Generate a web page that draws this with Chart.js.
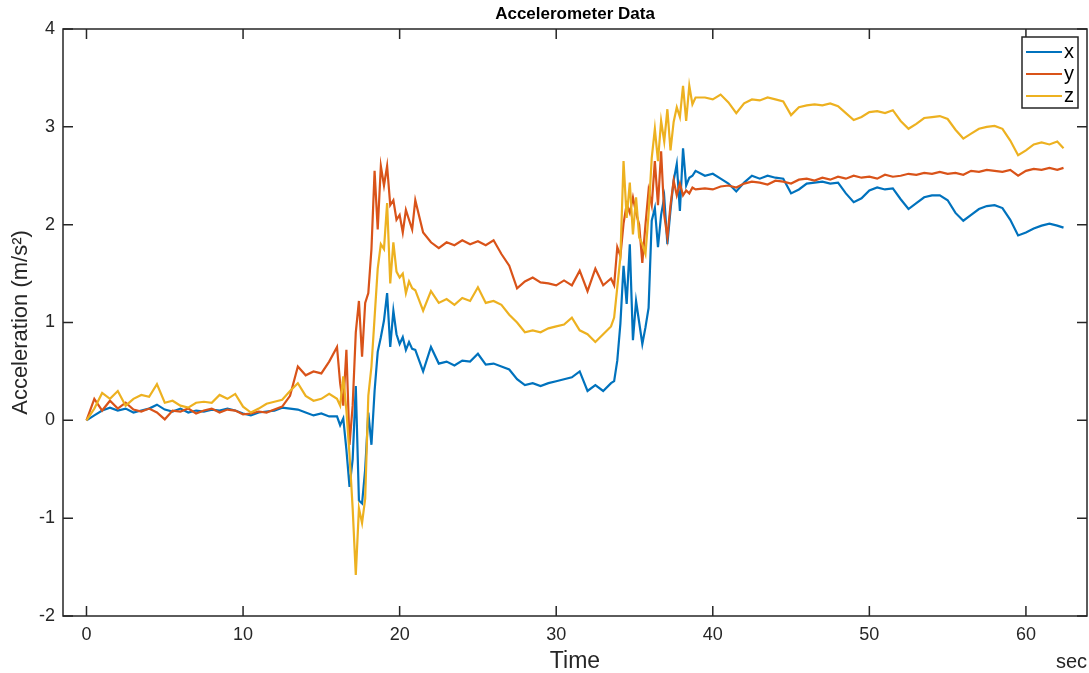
<!DOCTYPE html>
<html><head><meta charset="utf-8">
<script src="https://cdn.jsdelivr.net/npm/chart.js@4.4.1/dist/chart.umd.min.js"></script>
<style>html,body{margin:0;padding:0;background:#fff;overflow:hidden}canvas{display:block}</style>
</head><body>
<canvas id="c" width="1089" height="673"></canvas>
<script>
// ---- data (seconds, m/s^2) ----
const time = [
 0,0.5,1,1.5,2,2.5,3,3.5,4,4.5,5,5.5,6,6.5,7,7.5,8,8.5,9,9.5,10,10.5,11,11.5,12,12.5,13,13.5,14,14.5,15,15.5,
 16,16.2,16.4,16.6,16.8,17,17.2,17.4,17.6,17.8,18,18.2,18.4,18.6,18.8,19,19.2,19.4,19.6,19.8,20,20.2,20.4,20.6,20.8,
 21,21.5,22,22.5,23,23.5,24,24.5,25,25.5,26,26.5,27,27.5,28,28.5,29,29.5,30,30.5,31,31.5,32,32.5,33,33.5,
 33.7,33.9,34.1,34.3,34.5,34.7,34.9,35.1,35.3,35.5,35.7,35.9,36.1,36.3,36.5,36.7,36.9,37.1,37.3,37.5,37.7,37.9,38.1,38.3,38.5,38.7,38.9,
 39.5,40,40.5,41,41.5,42,42.5,43,43.5,44,44.5,45,45.5,46,46.5,47,47.5,48,48.5,49,49.5,50,50.5,51,51.5,52,52.5,53,53.5,54,54.5,55,55.5,56,56.5,57,57.5,58,58.5,59,59.5,60,60.5,61,61.5,62,62.4
];
const accX = [
 0.00,0.05,0.10,0.13,0.10,0.12,0.08,0.10,0.12,0.16,0.11,0.09,0.12,0.08,0.10,0.09,0.11,0.10,0.12,0.10,0.07,0.05,0.08,0.09,0.10,0.13,0.12,0.11,0.08,0.05,0.07,0.04,
 0.04,-0.05,0.02,-0.30,-0.68,-0.40,0.35,-0.82,-0.85,-0.50,0.08,-0.25,0.30,0.70,0.85,1.02,1.30,0.75,1.12,0.88,0.78,0.85,0.72,0.80,0.73,
 0.72,0.50,0.75,0.58,0.60,0.56,0.61,0.60,0.68,0.57,0.58,0.55,0.52,0.42,0.36,0.38,0.35,0.38,0.40,0.42,0.44,0.50,0.30,0.36,0.30,0.38,
 0.40,0.61,0.99,1.58,1.19,1.80,0.82,1.22,1.00,0.78,0.95,1.15,2.04,2.17,1.77,2.10,2.28,1.80,2.15,2.45,2.62,2.14,2.78,2.40,2.48,2.50,2.55,
 2.50,2.52,2.47,2.42,2.34,2.43,2.50,2.47,2.50,2.48,2.47,2.32,2.36,2.42,2.43,2.44,2.42,2.43,2.32,2.23,2.27,2.35,2.38,2.36,2.37,2.26,2.16,2.22,2.28,2.30,2.30,2.25,2.12,2.04,2.10,2.16,2.19,2.20,2.17,2.05,1.89,1.92,1.96,1.99,2.01,1.99,1.97
];
const accY = [
 0.00,0.22,0.10,0.20,0.12,0.18,0.11,0.09,0.12,0.08,0.01,0.10,0.09,0.12,0.07,0.10,0.12,0.08,0.11,0.10,0.06,0.07,0.09,0.08,0.11,0.14,0.25,0.55,0.46,0.50,0.48,0.60,
 0.75,0.38,0.15,0.72,-0.25,0.15,0.90,1.22,0.65,1.20,1.30,1.75,2.55,1.95,2.60,2.40,2.60,2.20,2.25,2.05,2.10,1.92,2.15,2.05,1.95,
 2.25,1.92,1.82,1.76,1.82,1.79,1.84,1.80,1.83,1.79,1.84,1.70,1.58,1.35,1.42,1.46,1.41,1.40,1.38,1.43,1.38,1.53,1.32,1.55,1.38,1.45,
 1.38,1.77,1.68,2.01,2.21,2.12,2.28,2.12,2.00,1.61,2.00,2.35,2.20,2.65,2.20,2.75,2.10,1.87,2.20,2.45,2.30,2.42,2.30,2.35,2.32,2.38,2.36,
 2.37,2.36,2.39,2.40,2.38,2.42,2.44,2.43,2.41,2.45,2.44,2.42,2.46,2.47,2.45,2.48,2.46,2.49,2.47,2.50,2.48,2.49,2.47,2.51,2.49,2.50,2.52,2.51,2.53,2.52,2.54,2.52,2.53,2.51,2.55,2.54,2.56,2.55,2.54,2.56,2.50,2.55,2.57,2.56,2.58,2.56,2.58
];
const accZ = [
 0.00,0.12,0.28,0.22,0.30,0.15,0.22,0.26,0.24,0.37,0.18,0.20,0.15,0.13,0.18,0.19,0.18,0.26,0.22,0.27,0.14,0.08,0.12,0.17,0.19,0.21,0.30,0.38,0.25,0.20,0.22,0.27,
 0.22,0.15,0.45,0.10,-0.35,-0.90,-1.58,-0.90,-1.05,-0.80,0.25,0.55,1.05,1.55,1.80,1.75,2.22,1.40,1.82,1.52,1.46,1.50,1.30,1.42,1.35,
 1.33,1.12,1.32,1.20,1.24,1.18,1.25,1.22,1.36,1.20,1.22,1.18,1.08,1.00,0.90,0.92,0.90,0.94,0.96,0.98,1.05,0.92,0.88,0.80,0.88,0.96,
 1.05,1.36,1.67,2.65,2.07,2.43,1.90,2.28,1.87,1.80,1.70,2.11,2.68,2.98,2.65,3.06,2.85,3.18,2.76,3.05,3.20,3.10,3.42,3.06,3.42,3.23,3.30,
 3.30,3.28,3.33,3.25,3.14,3.24,3.28,3.27,3.30,3.28,3.26,3.12,3.20,3.22,3.23,3.22,3.24,3.21,3.14,3.07,3.10,3.15,3.16,3.14,3.17,3.06,2.98,3.03,3.09,3.10,3.11,3.08,2.97,2.88,2.93,2.98,3.00,3.01,2.98,2.86,2.71,2.76,2.82,2.84,2.82,2.85,2.78
];
const xTickValues = [0,10,20,30,40,50,60];
const yTickValues = [-2,-1,0,1,2,3,4];
const seriesNames = ['x','y','z'];
const seriesColors = ['#0072BD','#D95319','#EDB120'];

const FONT = '"Liberation Sans", Arial, Helvetica, sans-serif';
const AXIS_COLOR = '#262626';

function pts(vals){ return time.map((t,i)=>({x:t,y:vals[i]})); }
const seriesVals = [accX, accY, accZ];

const matlabBox = {
  id:'matlabBox',
  afterDatasetsDraw(chart){
    const {ctx, chartArea:a, scales:{x,y}} = chart;
    ctx.save();
    ctx.strokeStyle = AXIS_COLOR; ctx.lineWidth = 1.5;
    ctx.strokeRect(a.left, a.top, a.right-a.left, a.bottom-a.top);
    const tl = 10;
    ctx.beginPath();
    xTickValues.forEach(v=>{const px=x.getPixelForValue(v);
      ctx.moveTo(px,a.bottom); ctx.lineTo(px,a.bottom-tl);
      ctx.moveTo(px,a.top); ctx.lineTo(px,a.top+tl);});
    yTickValues.forEach(v=>{const py=y.getPixelForValue(v);
      ctx.moveTo(a.left,py); ctx.lineTo(a.left+tl,py);
      ctx.moveTo(a.right,py); ctx.lineTo(a.right-tl,py);});
    ctx.stroke();
    // legend
    const lx=1022, ly=37, lw=56, lh=71;
    ctx.fillStyle='#fff'; ctx.fillRect(lx,ly,lw,lh);
    ctx.lineWidth=1.5; ctx.strokeStyle=AXIS_COLOR; ctx.strokeRect(lx,ly,lw,lh);
    ctx.font='20px '+FONT; ctx.textBaseline='middle'; ctx.textAlign='left';
    seriesNames.forEach((n,i)=>{
      const yy = ly+15+i*22;
      ctx.strokeStyle=seriesColors[i]; ctx.lineWidth=2;
      ctx.beginPath(); ctx.moveTo(lx+4,yy); ctx.lineTo(lx+40,yy); ctx.stroke();
      ctx.fillStyle='#000'; ctx.fillText(n, lx+42, yy);
    });
    // unit label
    ctx.fillStyle=AXIS_COLOR; ctx.font='20px '+FONT; ctx.textAlign='right'; ctx.textBaseline='middle';
    ctx.fillText('sec', 1087, 662);
    ctx.restore();
  }
};

new Chart(document.getElementById('c'), {
  type:'line',
  data:{ datasets: seriesNames.map((n,i)=>({
    label:n, data:pts(seriesVals[i]), borderColor:seriesColors[i], backgroundColor:seriesColors[i],
    borderWidth:2.2, pointRadius:0, tension:0, fill:false, order:3-i
  }))},
  options:{
    responsive:false, animation:false, devicePixelRatio:1,
    layout:{padding:{left:0,right:2,top:0,bottom:0}},
    plugins:{
      legend:{display:false}, tooltip:{enabled:false},
      title:{display:true, fullSize:false, text:'Accelerometer Data', color:'#000',
        font:{family:FONT,size:17,weight:'bold'}, padding:{top:4,bottom:4.6}}
    },
    scales:{
      x:{type:'linear', min:-1.5, max:63.9,
        afterBuildTicks:s=>{s.ticks=xTickValues.map(v=>({value:v}));},
        afterFit:s=>{s.height=57;},
        grid:{display:false, drawTicks:false}, border:{display:false},
        ticks:{color:AXIS_COLOR, font:{family:FONT,size:18}, padding:8, maxRotation:0},
        title:{display:true, text:'Time', color:AXIS_COLOR, font:{family:FONT,size:23}, padding:{top:0,bottom:-2}}
      },
      y:{type:'linear', min:-2, max:4,
        afterBuildTicks:s=>{s.ticks=yTickValues.map(v=>({value:v}));},
        afterFit:s=>{s.width=63;},
        grid:{display:false, drawTicks:false}, border:{display:false},
        ticks:{color:AXIS_COLOR, font:{family:FONT,size:18}, padding:8},
        title:{display:true, text:'Acceleration (m/s²)', color:AXIS_COLOR, font:{family:FONT,size:22}, padding:{top:8,bottom:0}}
      }
    }
  },
  plugins:[matlabBox]
});
</script>
</body></html>
